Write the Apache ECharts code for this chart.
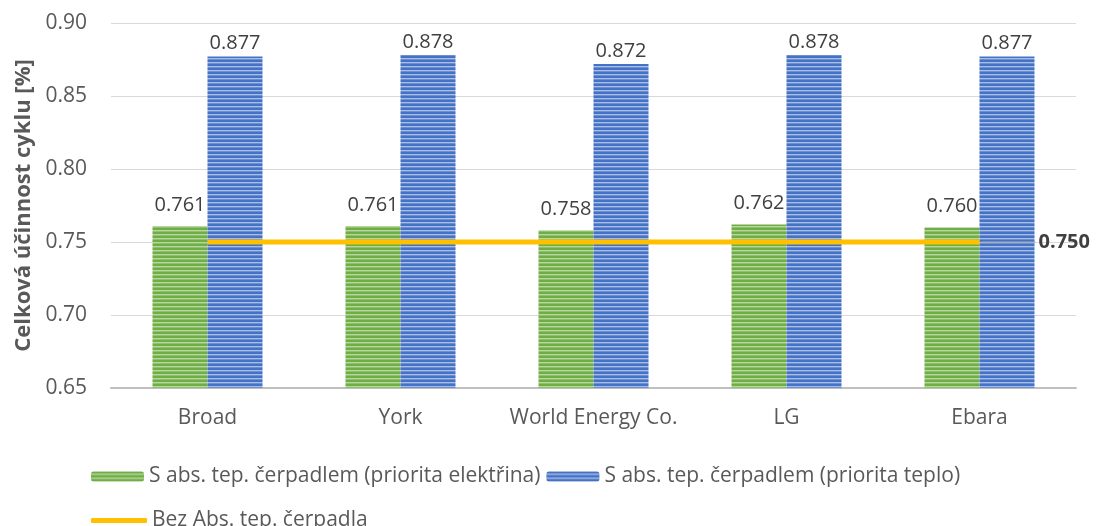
<!DOCTYPE html>
<html><head><meta charset="utf-8">
<script src="https://cdn.jsdelivr.net/npm/echarts@6/dist/echarts.min.js"></script>
<style>html,body{margin:0;padding:0;background:#fff}#c{width:1096px;height:526px}</style>
</head><body><div id="c"></div>
<script>
const categories = ['Broad', 'York', 'World Energy Co.', 'LG', 'Ebara'];
const elektrina = [0.761, 0.761, 0.758, 0.762, 0.760];
const teplo = [0.877, 0.878, 0.872, 0.878, 0.877];
const bez = [0.750, 0.750, 0.750, 0.750, 0.750];
const seriesNames = ['S abs. tep. čerpadlem (priorita elektřina)', 'S abs. tep. čerpadlem (priorita teplo)', 'Bez Abs. tep. čerpadla'];
const yTicks = { min: 0.65, max: 0.90, interval: 0.05 };

function stripe(dark, light, mid) {
  const c = document.createElement('canvas');
  c.width = 4; c.height = 4;
  const g = c.getContext('2d');
  g.fillStyle = dark; g.fillRect(0, 0, 4, 2);
  g.fillStyle = light; g.fillRect(0, 2, 4, 1);
  g.fillStyle = mid; g.fillRect(0, 3, 4, 1);
  return { image: c, repeat: 'repeat' };
}
const greenPat = stripe('#70AD47', '#b7d7a0', '#8fc06c');
const bluePat = stripe('#4472C4', '#a8bde6', '#6d8fd2');
const FONT = 'Open Sans';
const TXT = '#595959';
const FS = 21;
const LFS = 20;

const chart = echarts.init(document.getElementById('c'), null, { renderer: 'canvas' });
chart.setOption({
  animation: false,
  textStyle: { fontFamily: FONT },
  grid: { left: 111, right: 20, top: 23, bottom: 138 },
  legend: [
    { data: [seriesNames[0], seriesNames[1]], left: 86, top: 461, itemWidth: 53, itemHeight: 10, itemGap: 6,
      textStyle: { fontSize: FS, color: TXT, fontFamily: FONT } },
    { data: [{ name: seriesNames[2], icon: 'roundRect' }], left: 86, top: 505, itemWidth: 56, itemHeight: 5, itemGap: 6,
      textStyle: { fontSize: FS, color: TXT, fontFamily: FONT } }
  ],
  xAxis: {
    type: 'category', data: categories,
    axisTick: { show: false },
    axisLine: { lineStyle: { color: '#bfbfbf', width: 2 } },
    axisLabel: { interval: 0, fontSize: FS, color: TXT, margin: 20, fontFamily: FONT }
  },
  yAxis: {
    type: 'value', min: yTicks.min, max: yTicks.max, interval: yTicks.interval,
    name: 'Celková účinnost cyklu [%]', nameLocation: 'middle', nameGap: 74,
    nameTextStyle: { fontSize: 22, fontWeight: 'bold', color: TXT, fontFamily: FONT },
    axisLine: { show: false }, axisTick: { show: false },
    axisLabel: { fontSize: FS, color: TXT, margin: 24, fontFamily: FONT, formatter: v => v.toFixed(2) },
    splitLine: { lineStyle: { color: '#d9d9d9', width: 1 } }
  },
  series: [
    { name: seriesNames[0], type: 'bar', data: elektrina, barWidth: 55, barGap: '0%',
      itemStyle: { color: greenPat },
      label: { show: true, position: 'top', distance: 11, fontSize: LFS, color: '#404040', fontFamily: FONT, formatter: p => p.value.toFixed(3) } },
    { name: seriesNames[1], type: 'bar', data: teplo, barWidth: 55, barGap: '0%',
      itemStyle: { color: bluePat },
      label: { show: true, position: 'top', distance: 3, fontSize: LFS, color: '#404040', fontFamily: FONT, formatter: p => p.value.toFixed(3) } },
    { name: seriesNames[2], type: 'line', z: 5, symbol: 'none',
      data: bez,
      lineStyle: { color: '#FFC000', width: 5 }, itemStyle: { color: '#FFC000' },
      endLabel: { show: true, distance: 2,
        formatter: p => '{l|}{v|' + p.value.toFixed(3) + '}',
        rich: {
          l: { width: 54, height: 1, backgroundColor: '#a6a6a6' },
          v: { fontSize: LFS, fontWeight: 'bold', color: '#404040', fontFamily: FONT, padding: [0, 0, 0, 3] }
        } } }
  ]
});
</script></body></html>
